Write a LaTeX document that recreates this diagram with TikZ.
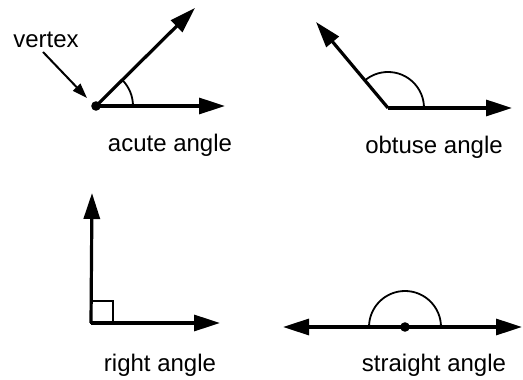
\documentclass[tikz,border=0pt]{standalone}
\usepackage{fontspec}
\setmainfont{Liberation Sans}
\usetikzlibrary{arrows.meta,calc}
\tikzset{
  ray/.style={line width=1.6pt, -{Triangle[length=13pt,width=8pt]}},
  pointer/.style={line width=1pt, -{Triangle[length=7.5pt,width=5pt]}},
  anglearc/.style={line width=0.9pt},
  caption/.style={font=\fontsize{12}{14}\selectfont}
}
\begin{document}
\begin{tikzpicture}[x=0.5pt,y=0.5pt]
    \useasboundingbox (0,0) rectangle (523,379);

    % Acute angle
    \coordinate (acuteV) at (96,273);
    \coordinate (acuteA) at (195,371);
    \coordinate (acuteB) at (225,273);
    \draw[ray] (acuteV) -- (acuteA);
    \draw[ray] (acuteV) -- (acuteB);
    \draw[anglearc] ($(acuteV)+(37,0)$) arc (0:44.5:37);
    \fill (acuteV) circle (2.4pt);
    \node[caption] (vertexlabel) at (46,339) {vertex};
    \coordinate (vertexfrom) at (43,327);
    \coordinate (vertexto) at (87,281);
    \draw[pointer] (vertexfrom) -- (vertexto);
    \node[caption] (acutelabel) at (170,234) {acute angle};

    % Obtuse angle
    \coordinate (obtuseV) at (388,271);
    \coordinate (obtuseA) at (316,357);
    \coordinate (obtuseB) at (512,271);
    \draw[ray] (obtuseV) -- (obtuseA);
    \draw[ray] (obtuseV) -- (obtuseB);
    \draw[anglearc] ($(obtuseV)+(36,0)$) arc (0:130:36);
    \node[caption] (obtuselabel) at (434,232) {obtuse angle};

    % Right angle
    \coordinate (rightV) at (91,56);
    \coordinate (rightA) at (92,186);
    \coordinate (rightB) at (220,56);
    \draw[ray] (rightV) -- (rightA);
    \draw[ray] (rightV) -- (rightB);
    \draw[anglearc] (rightV) rectangle ++(22,22);
    \node[caption] (rightlabel) at (160,14) {right angle};

    % Straight angle
    \coordinate (straightV) at (405,52);
    \coordinate (straightA) at (283,52);
    \coordinate (straightB) at (522,52);
    \draw[ray] (straightV) -- (straightA);
    \draw[ray] (straightV) -- (straightB);
    \draw[anglearc] ($(straightV)+(36,0)$) arc (0:180:36);
    \fill (straightV) circle (2.4pt);
    \node[caption] (straightlabel) at (434,14) {straight angle};
\end{tikzpicture}
\end{document}
